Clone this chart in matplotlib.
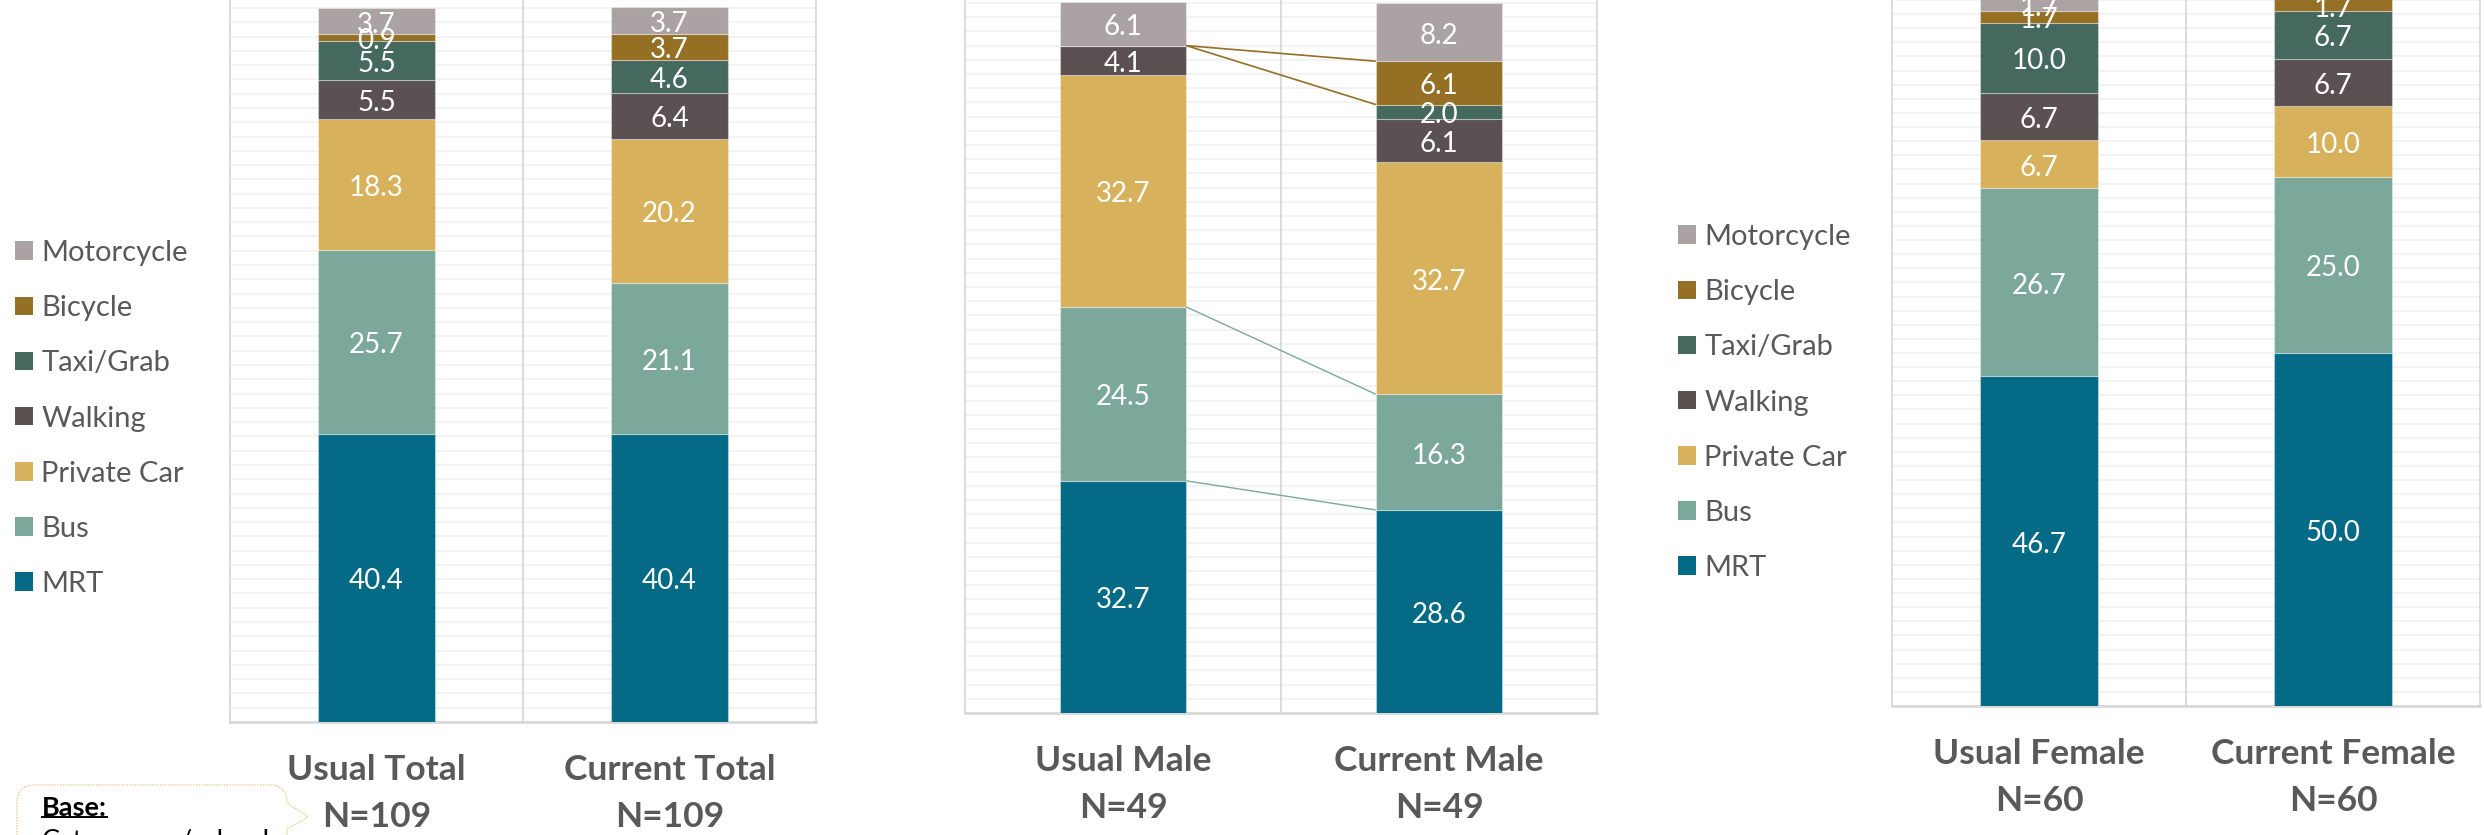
import matplotlib
matplotlib.use("Agg")
import matplotlib.pyplot as plt
import numpy as np
from matplotlib.path import Path
from matplotlib.patches import PathPatch, Patch
from matplotlib.lines import Line2D

# ---- data -------------------------------------------------------------
modes = ["MRT", "Bus", "Private Car", "Walking", "Taxi/Grab", "Bicycle", "Motorcycle"]
mode_colors = ["#046A85", "#7CA89C", "#D8B15C", "#5B5153", "#46695F", "#957024", "#ABA2A3"]

total_labels = ["Usual Total", "Current Total"]
total_n = ["N=109", "N=109"]
usual_total = [40.4, 25.7, 18.3, 5.5, 5.5, 0.9, 3.7]
current_total = [40.4, 21.1, 20.2, 6.4, 4.6, 3.7, 3.7]

male_labels = ["Usual Male", "Current Male"]
male_n = ["N=49", "N=49"]
usual_male = [32.7, 24.5, 32.7, 4.1, 0.0, 0.0, 6.1]
current_male = [28.6, 16.3, 32.7, 6.1, 2.0, 6.1, 8.2]

female_labels = ["Usual Female", "Current Female"]
female_n = ["N=60", "N=60"]
usual_female = [46.7, 26.7, 6.7, 6.7, 10.0, 1.7, 1.7]
current_female = [50.0, 25.0, 10.0, 6.7, 6.7, 1.7, 0.0]

base_title = "Base:"
base_text = "Cat-owners/school"

# ---- figure -----------------------------------------------------------
W, H = 2484, 835
DPI = 100
plt.rcParams["font.family"] = ["Lato", "DejaVu Sans"]
fig = plt.figure(figsize=(W / DPI, H / DPI), dpi=DPI)
fig.patch.set_facecolor("white")

GRID = "#F2F2F2"
AXIS = "#D9D9D9"
TEXT = "#595959"
BAR_W = 0.40


def px_axes(left, right, bottom, top):
    return fig.add_axes([left / W, 1 - bottom / H, (right - left) / W, (bottom - top) / H])


def fx(x):
    return x / W


def fy(y):
    return 1 - y / H


def stacked_panel(left, right, bottom, per_unit, usual, current, names, ns):
    ax = px_axes(left, right, bottom, 0)
    ax.set_xlim(-0.5, 1.5)
    ax.set_ylim(0, bottom / per_unit)
    ax.set_yticks(np.arange(0, 101, 2))
    ax.yaxis.grid(True, color=GRID, lw=1.3)
    ax.set_axisbelow(True)
    ax.tick_params(left=False, bottom=False, labelleft=False, labelbottom=False)
    ax.set_xticks([])
    for s in ("left", "right"):
        ax.spines[s].set_color(AXIS)
        ax.spines[s].set_linewidth(1.3)
    ax.spines["top"].set_visible(False)
    ax.spines["bottom"].set_color(AXIS)
    ax.spines["bottom"].set_linewidth(2.0)
    ax.axvline(0.5, color=AXIS, lw=1.3, zorder=1)

    data = np.array([usual, current])          # shape (2, modes)
    x = np.arange(2)
    bottoms = np.zeros(2)
    for i, mode in enumerate(modes):
        vals = data[:, i]
        ax.bar(x, vals, BAR_W, bottom=bottoms, color=mode_colors[i],
               edgecolor=(1, 1, 1, 0.35), linewidth=0.8, zorder=3)
        for xi, (v, b) in enumerate(zip(vals, bottoms)):
            if v > 0:
                ax.annotate("%.1f" % v, xy=(xi, b + v / 2), xytext=(0, -2.5),
                            textcoords="offset points", ha="center", va="center",
                            color="white", fontsize=20, zorder=5)
        bottoms = bottoms + vals

    for xi, (name, n) in enumerate(zip(names, ns)):
        ax.annotate(name, xy=(xi, 0), xycoords=("data", "axes fraction"),
                    xytext=(0, -34.5), textcoords="offset points",
                    ha="center", va="center", fontsize=25.5, fontweight="bold", color=TEXT)
        ax.annotate(n, xy=(xi, 0), xycoords=("data", "axes fraction"),
                    xytext=(0, -68.5), textcoords="offset points",
                    ha="center", va="center", fontsize=25.5, fontweight="bold", color=TEXT)
    return ax, data


ax1, _ = stacked_panel(230, 816, 722, 7.14, usual_total, current_total, total_labels, total_n)
ax2, male = stacked_panel(965, 1597, 713, 7.10, usual_male, current_male, male_labels, male_n)
ax3, _ = stacked_panel(1892, 2480, 706, 7.11, usual_female, current_female, female_labels, female_n)

# series lines between the two male bars
tops = np.cumsum(male, axis=1)
links = [(modes.index("Bicycle"), "#957024", 1.2),
         (modes.index("Taxi/Grab"), "#957024", 1.2),
         (modes.index("Bus"), "#7CA89C", 1.0),
         (modes.index("MRT"), "#7CA89C", 1.0)]
for idx, col, lw in links:
    ax2.plot([BAR_W / 2, 1 - BAR_W / 2], [tops[0, idx], tops[1, idx]],
             color=col, lw=lw, zorder=4, solid_capstyle="butt")

# legends
handles = [Patch(facecolor=c, edgecolor="none") for c in mode_colors][::-1]
names = modes[::-1]
for (lx, ly) in [(15, 240), (1678, 224)]:
    fig.legend(handles, names, loc="upper left",
               bbox_to_anchor=(fx(lx), fy(ly)), bbox_transform=fig.transFigure,
               frameon=False, fontsize=21, labelcolor=TEXT,
               handlelength=0.6, handleheight=0.6, handletextpad=0.3,
               labelspacing=1.0, borderpad=0, borderaxespad=0)

# base callout
L, R, T, B, r = 17, 287, 785, 860, 18
verts = [(L, B), (L, T + r), (L, T), (L + r, T), (R - r, T), (R, T), (R, T + r),
         (R, 803), (308, 817), (R, 829), (R, B)]
codes = [Path.MOVETO, Path.LINETO, Path.CURVE3, Path.CURVE3, Path.LINETO, Path.CURVE3,
         Path.CURVE3, Path.LINETO, Path.LINETO, Path.LINETO, Path.LINETO]
callout = PathPatch(Path([(fx(a), fy(b)) for a, b in verts], codes),
                    transform=fig.transFigure, facecolor="white",
                    edgecolor="#EBCB8B", lw=1.0, linestyle=(0, (1, 1)), clip_on=False)
fig.patches.append(callout)
bt = fig.text(fx(42), fy(808), base_title, ha="left", va="center",
              fontsize=19.5, fontweight="bold", color="black")
fig.text(fx(42), fy(829), base_text, ha="left", va="top", fontsize=19.5, color="black")

fig.canvas.draw()
bb = bt.get_window_extent()
uy = bb.y0 + 3
fig.lines.append(Line2D([bb.x0 / W, bb.x1 / W], [uy / H, uy / H],
                        transform=fig.transFigure, color="black", lw=1.4))

fig.savefig("out.png", dpi=DPI, facecolor="white")
